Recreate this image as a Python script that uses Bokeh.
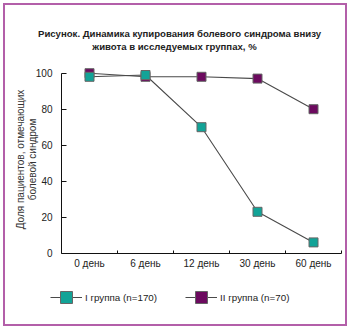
import math
from bokeh.plotting import figure
from bokeh.models import Range1d, FixedTicker, Legend, LegendItem, Label
from bokeh.embed import file_html
from bokeh.resources import INLINE

categories = ["0 день", "6 день", "12 день", "30 день", "60 день"]
group1 = [98, 99, 70, 23, 6]
group2 = [100, 98, 98, 97, 80]
label1 = "I группа (n=170)"
label2 = "II группа (n=70)"
yticks = [0, 20, 40, 60, 80, 100]
title1 = "Рисунок. Динамика купирования болевого синдрома внизу"
title2 = "живота в исследуемых группах, %"
ylabel1 = "Доля пациентов, отмечающих"
ylabel2 = "болевой синдром"

xs = [i + 0.5 for i in range(len(categories))]

FONT = "Liberation Sans"
TEAL = "#12a397"
PURPLE = "#6c0a5f"
W, H = 350, 329
# frame covers the whole canvas; axes sit at fixed data locations
CAT_PX = 56.0       # pixels per category
X0_PX = 61.0        # pixel of x = 0
Y_PX = 1.8          # pixels per percent
Y0_PX = 252.7       # pixel row of y = 0

p = figure(width=W, height=H, output_backend="svg", toolbar_location=None,
           x_range=Range1d(-X0_PX / CAT_PX, (W - X0_PX) / CAT_PX),
           y_range=Range1d(-(H - Y0_PX) / Y_PX, Y0_PX / Y_PX),
           min_border=0, min_border_left=0, min_border_right=0, min_border_top=0, min_border_bottom=0)
p.title = None
p.outline_line_color = None
p.grid.visible = False
p.background_fill_alpha = 0
p.border_fill_alpha = 0
p.styles = {"outline": "2px solid #b35fa9", "outline-offset": "-5px", "background-color": "white"}

r2l = p.line(xs, group2, line_color="#4a4a4a", line_width=1.1)
r1l = p.line(xs, group1, line_color="#4a4a4a", line_width=1.1)
r2s = p.scatter(xs, group2, marker="square", size=9, fill_color=PURPLE, line_color="#666666", line_width=1)
r1s = p.scatter(xs, group1, marker="square", size=9, fill_color=TEAL, line_color="#666666", line_width=1)

xa = p.xaxis[0]
xa.fixed_location = 0
xa.bounds = (0, len(categories))
xa.ticker = FixedTicker(ticks=xs, minor_ticks=[i + 1 for i in range(len(categories))])
xa.major_label_overrides = {x: c for x, c in zip(xs, categories)}
xa.major_tick_in = 0
xa.major_tick_out = 0
xa.minor_tick_in = 3
xa.minor_tick_out = 0
xa.axis_line_color = "#111111"
xa.minor_tick_line_color = "#111111"
xa.major_label_text_font = FONT
xa.major_label_text_font_size = "10px"
xa.major_label_text_color = "#222222"
xa.major_label_standoff = 5

ya = p.yaxis[0]
ya.fixed_location = 0
ya.ticker = FixedTicker(ticks=yticks)
ya.bounds = (0, 100)
ya.major_tick_in = 5
ya.major_tick_out = 0
ya.minor_tick_line_color = None
ya.axis_line_color = "#111111"
ya.major_tick_line_color = "#111111"
ya.major_label_text_font = FONT
ya.major_label_text_font_size = "10px"
ya.major_label_text_color = "#222222"
ya.major_label_standoff = 9

def screen_label(text, x, y_from_top, **kw):
    return Label(x=x, y=H - y_from_top, x_units="screen", y_units="screen", text=text,
                 text_font=FONT, text_baseline="middle", text_align="center", **kw)

p.add_layout(screen_label(title1, 179, 33, text_font_size="9.6px", text_font_style="bold", text_color="#222222"))
p.add_layout(screen_label(title2, 174, 46, text_font_size="9.6px", text_font_style="bold", text_color="#222222"))
p.add_layout(screen_label(ylabel1, 20, 159, angle=math.pi / 2, text_font_size="10px", text_color="#333333"))
p.add_layout(screen_label(ylabel2, 32, 159, angle=math.pi / 2, text_font_size="10px", text_color="#333333"))

legend = Legend(items=[LegendItem(label=label1, renderers=[r1l, r1s]),
                       LegendItem(label=label2, renderers=[r2l, r2s])],
                orientation="horizontal", location=(50, 17),
                glyph_width=32, glyph_height=30, label_standoff=3, spacing=28,
                padding=0, margin=0, border_line_color=None, background_fill_alpha=0,
                label_text_font=FONT, label_text_font_size="9.8px", label_text_color="#222222")
p.add_layout(legend, "center")

open("out.html", "w").write(file_html(p, INLINE))
